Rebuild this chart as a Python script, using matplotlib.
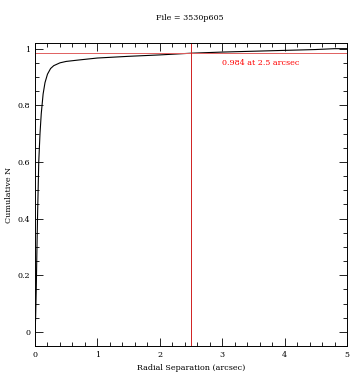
import numpy as np
import matplotlib
matplotlib.use("Agg")
from matplotlib import pyplot as plt
from matplotlib.ticker import MultipleLocator

# cumulative fraction vs radial separation
sep = [0.0, 0.01, 0.02, 0.03, 0.04, 0.06, 0.08, 0.10, 0.13, 0.16, 0.20, 0.25,
       0.30, 0.40, 0.50, 0.70, 1.00, 1.50, 2.00, 2.50, 3.00, 3.50, 4.00,
       4.50, 4.80, 5.00]
cum_n = [0.0, 0.05, 0.15, 0.28, 0.40, 0.60, 0.70, 0.77, 0.84, 0.88, 0.91,
         0.93, 0.94, 0.95, 0.955, 0.96, 0.967, 0.973, 0.978, 0.984, 0.988,
         0.991, 0.994, 0.997, 1.0, 1.0]
r_mark = 2.5
frac_mark = 0.984
title = "File = 3530p605"

plt.rcParams['font.family'] = ['DejaVu Serif']

fig = plt.figure(figsize=(3.59, 3.82), dpi=100)
ax = fig.add_axes([0.0975, 0.0942, 0.8691, 0.7932])

ax.plot(sep, cum_n, color='black', lw=0.8)
ax.axhline(frac_mark, color='#e06060', lw=0.7)
ax.axvline(r_mark, color='#d02020', lw=0.7)
ax.text(3.0, 0.949, "%.3f at %.1f arcsec" % (frac_mark, r_mark),
        color='red', fontsize=5.8, va='center')

ax.set_xlim(0, 5)
ax.set_ylim(-0.05, 1.02)
ax.xaxis.set_major_locator(MultipleLocator(1))
ax.xaxis.set_minor_locator(MultipleLocator(0.2))
ax.yaxis.set_major_locator(MultipleLocator(0.2))
ax.yaxis.set_minor_locator(MultipleLocator(0.05))
ax.yaxis.set_major_formatter(plt.FuncFormatter(lambda v, p: "%g" % round(v, 2)))
ax.tick_params(which='both', direction='in', top=True, right=True,
               labelsize=5.8, width=0.6)
ax.tick_params(which='major', length=6)
ax.tick_params(which='minor', length=3)
for s in ax.spines.values():
    s.set_linewidth(0.7)

ax.set_xlabel("Radial Separation (arcsec)", fontsize=5.8, labelpad=4)
ax.set_ylabel("Cumulative N", fontsize=5.8, labelpad=3)
fig.text(0.53, 0.952, title, fontsize=5.8, ha='center', va='center')

fig.savefig("out.png", dpi=100)
